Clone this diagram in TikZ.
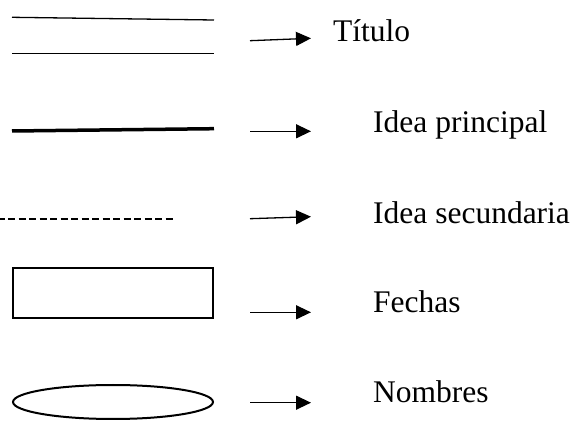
\documentclass[tikz,border=0pt]{standalone}
\usepackage{fontspec}
\setmainfont{Liberation Serif}
\usetikzlibrary{arrows.meta,shapes.geometric}
\tikzset{
  thinline/.style={line width=1.3pt},
  boldline/.style={line width=3.5pt},
  dashline/.style={line width=1.8pt,dash pattern=on 7pt off 3.5pt,dash phase=2.3pt},
  pointer/.style={line width=1.3pt,-{Triangle[length=15pt,width=14pt]}},
  label/.style={anchor=base west,inner sep=0pt,font=\fontsize{31.5pt}{36pt}\selectfont},
  boxshape/.style={draw,line width=2pt,rectangle,inner sep=0pt,minimum width=200pt,minimum height=49.4pt},
  ovalshape/.style={draw,line width=2pt,ellipse,inner sep=0pt,minimum width=200pt,minimum height=34pt}
}
\begin{document}
\begin{tikzpicture}[x=1pt,y=-1pt]
\useasboundingbox (0,0) rectangle (574,422);
% title
\coordinate (t1a) at (12,17.3); \coordinate (t1b) at (214,20);
\coordinate (t2a) at (12,53.3); \coordinate (t2b) at (214,53.3);
\draw[thinline] (t1a) -- (t1b);
\draw[thinline] (t2a) -- (t2b);
\coordinate (a1s) at (250,40.7); \coordinate (a1e) at (311,38.3);
\draw[pointer] (a1s) -- (a1e);
\node[label] (l1) at (333,41.5) {Título};
% main idea
\coordinate (pa) at (12,131); \coordinate (pb) at (214,128.7);
\draw[boldline] (pa) -- (pb);
\coordinate (a2s) at (250,131.3); \coordinate (a2e) at (311,131.3);
\draw[pointer] (a2s) -- (a2e);
\node[label] (l2) at (373,132.5) {Idea principal};
% secondary idea
\coordinate (sa) at (0,218.7); \coordinate (sb) at (175.7,218.7);
\draw[dashline] (sa) -- (sb);
\coordinate (a3s) at (250,218.7); \coordinate (a3e) at (311,216.7);
\draw[pointer] (a3s) -- (a3e);
\node[label] (l3) at (373,224) {Idea secundaria};
% dates
\node[boxshape] (box) at (113,293) {};
\coordinate (a4s) at (250,312.3); \coordinate (a4e) at (311,312.3);
\draw[pointer] (a4s) -- (a4e);
\node[label] (l4) at (373,313) {Fechas};
% names
\node[ovalshape] (oval) at (113,402) {};
\coordinate (a5s) at (250,402.7); \coordinate (a5e) at (311,402.7);
\draw[pointer] (a5s) -- (a5e);
\node[label] (l5) at (373,403) {Nombres};
\end{tikzpicture}
\end{document}
